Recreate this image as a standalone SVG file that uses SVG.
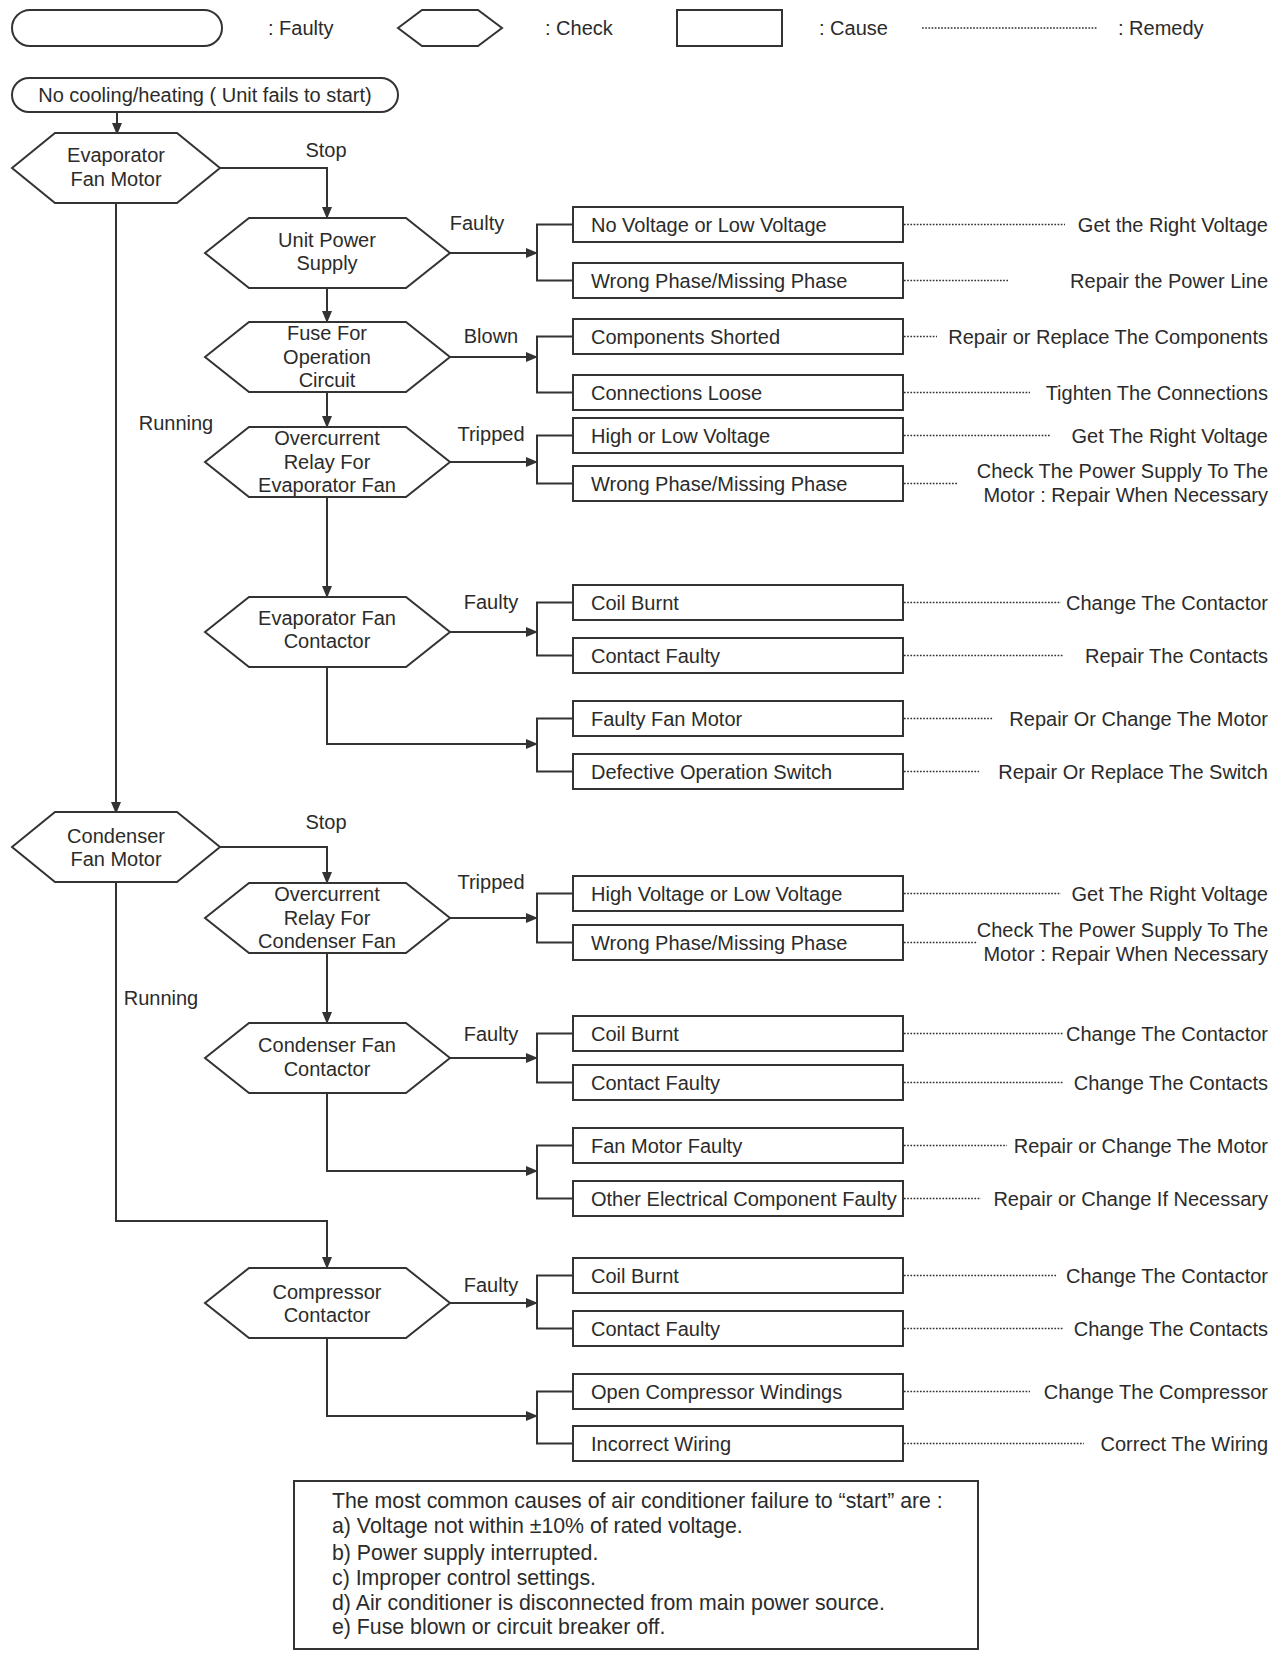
<svg xmlns="http://www.w3.org/2000/svg" width="1279" height="1653" viewBox="0 0 1279 1653">
<defs>
<marker id="ah" markerUnits="userSpaceOnUse" markerWidth="12" markerHeight="10" refX="11" refY="5" orient="auto">
<path d="M0,0 L12,5 L0,10 z" fill="#333"/>
</marker>
<style>
.s{fill:#fff;stroke:#333;stroke-width:2}
.t{font-family:"Liberation Sans",Arial,sans-serif;font-size:20px;fill:#2b2b2b}
.n{font-size:21.3px}
.c{text-anchor:middle}
.e{text-anchor:end}
.ln{fill:none;stroke:#333;stroke-width:2}
.ar{fill:none;stroke:#333;stroke-width:2;marker-end:url(#ah)}
.dot{fill:none;stroke:#333;stroke-width:1.7;stroke-dasharray:1.7 1.5}
</style>
</defs>
<rect width="1279" height="1653" fill="#fff"/>

<g id="legend">
<rect class="s" x="12" y="10" width="210" height="36" rx="18"/>
<text class="t" x="268" y="35">:  Faulty</text>
<path class="s" d="M398,28 L422,10 L478,10 L502,28 L478,46 L422,46 Z"/>
<text class="t" x="545" y="35">:  Check</text>
<rect class="s" x="677" y="10" width="105" height="36"/>
<text class="t" x="819" y="35">:  Cause</text>
<line class="dot" x1="922" y1="28" x2="1097" y2="28"/>
<text class="t" x="1118" y="35">: Remedy</text>
</g>

<g id="connectors">
<path class="ar" d="M117,112 V134"/>
<path class="ar" d="M220,168 H327 V218"/>
<path class="ar" d="M116,203 V813"/>
<path class="ar" d="M327,288 V322"/>
<path class="ar" d="M327,392 V427"/>
<path class="ar" d="M327,497 V597"/>
<path class="ar" d="M327,667 V744 H537"/>
<path class="ar" d="M220,847 H327 V883"/>
<path class="ar" d="M327,953 V1023"/>
<path class="ar" d="M327,1093 V1171 H537"/>
<path class="ar" d="M116,882 V1221 H327 V1268"/>
<path class="ar" d="M327,1338 V1416 H537"/>
<path class="ar" d="M450,253 H537"/>
<path class="ar" d="M450,357 H537"/>
<path class="ar" d="M450,462 H537"/>
<path class="ar" d="M450,632 H537"/>
<path class="ar" d="M450,918 H537"/>
<path class="ar" d="M450,1058 H537"/>
<path class="ar" d="M450,1303 H537"/>
<path class="ln" d="M573,224.5 H537 V280.5 H573"/>
<path class="ln" d="M573,336.5 H537 V392.5 H573"/>
<path class="ln" d="M573,435.5 H537 V483.5 H573"/>
<path class="ln" d="M573,602.5 H537 V655.5 H573"/>
<path class="ln" d="M573,718.5 H537 V771.5 H573"/>
<path class="ln" d="M573,893.5 H537 V942.5 H573"/>
<path class="ln" d="M573,1033.5 H537 V1082.5 H573"/>
<path class="ln" d="M573,1145.5 H537 V1198.5 H573"/>
<path class="ln" d="M573,1275.5 H537 V1328.5 H573"/>
<path class="ln" d="M573,1391.5 H537 V1443.5 H573"/>
<line class="dot" x1="904" y1="224.5" x2="1065" y2="224.5"/>
<line class="dot" x1="904" y1="280.5" x2="1008" y2="280.5"/>
<line class="dot" x1="904" y1="336.5" x2="937" y2="336.5"/>
<line class="dot" x1="904" y1="392.5" x2="1030" y2="392.5"/>
<line class="dot" x1="904" y1="435.5" x2="1050" y2="435.5"/>
<line class="dot" x1="904" y1="483.5" x2="958" y2="483.5"/>
<line class="dot" x1="904" y1="602.5" x2="1061" y2="602.5"/>
<line class="dot" x1="904" y1="655.5" x2="1063" y2="655.5"/>
<line class="dot" x1="904" y1="718.5" x2="993" y2="718.5"/>
<line class="dot" x1="904" y1="771.5" x2="979" y2="771.5"/>
<line class="dot" x1="904" y1="893.5" x2="1061" y2="893.5"/>
<line class="dot" x1="904" y1="942.5" x2="977" y2="942.5"/>
<line class="dot" x1="904" y1="1033.5" x2="1063" y2="1033.5"/>
<line class="dot" x1="904" y1="1082.5" x2="1063" y2="1082.5"/>
<line class="dot" x1="904" y1="1145.5" x2="1007" y2="1145.5"/>
<line class="dot" x1="904" y1="1198.5" x2="981" y2="1198.5"/>
<line class="dot" x1="904" y1="1275.5" x2="1056" y2="1275.5"/>
<line class="dot" x1="904" y1="1328.5" x2="1063" y2="1328.5"/>
<line class="dot" x1="904" y1="1391.5" x2="1030" y2="1391.5"/>
<line class="dot" x1="904" y1="1443.5" x2="1084" y2="1443.5"/>
<text class="t c" x="326" y="157">Stop</text>
<text class="t c" x="176" y="430">Running</text>
<text class="t c" x="477" y="230">Faulty</text>
<text class="t c" x="491" y="343">Blown</text>
<text class="t c" x="491" y="441">Tripped</text>
<text class="t c" x="491" y="609">Faulty</text>
<text class="t c" x="326" y="829">Stop</text>
<text class="t c" x="161" y="1005">Running</text>
<text class="t c" x="491" y="889">Tripped</text>
<text class="t c" x="491" y="1041">Faulty</text>
<text class="t c" x="491" y="1292">Faulty</text>
</g>

<g id="start">
<rect class="s" x="12" y="78" width="386" height="34" rx="17"/>
<text class="t c" x="205" y="102">No cooling/heating ( Unit fails to start)</text>
</g>

<g id="evap-fan-motor">
<path class="s" d="M12,168 L55,133 L177,133 L220,168 L177,203 L55,203 Z"/>
<text class="t c" x="116" y="162">Evaporator</text>
<text class="t c" x="116" y="186">Fan Motor</text>
</g>
<g id="unit-power-supply">
<path class="s" d="M205,253 L249,218 L406,218 L450,253 L406,288 L249,288 Z"/>
<text class="t c" x="327" y="247">Unit Power</text>
<text class="t c" x="327" y="270">Supply</text>
</g>
<g id="fuse">
<path class="s" d="M205,357 L249,322 L406,322 L450,357 L406,392 L249,392 Z"/>
<text class="t c" x="327" y="340">Fuse For</text>
<text class="t c" x="327" y="364">Operation</text>
<text class="t c" x="327" y="387">Circuit</text>
</g>
<g id="ocr-evap">
<path class="s" d="M205,462 L249,427 L406,427 L450,462 L406,497 L249,497 Z"/>
<text class="t c" x="327" y="445">Overcurrent</text>
<text class="t c" x="327" y="469">Relay For</text>
<text class="t c" x="327" y="492">Evaporator Fan</text>
</g>
<g id="evap-contactor">
<path class="s" d="M205,632 L249,597 L406,597 L450,632 L406,667 L249,667 Z"/>
<text class="t c" x="327" y="625">Evaporator Fan</text>
<text class="t c" x="327" y="648">Contactor</text>
</g>
<g id="cond-fan-motor">
<path class="s" d="M12,847 L55,812 L177,812 L220,847 L177,882 L55,882 Z"/>
<text class="t c" x="116" y="843">Condenser</text>
<text class="t c" x="116" y="866">Fan Motor</text>
</g>
<g id="ocr-cond">
<path class="s" d="M205,918 L249,883 L406,883 L450,918 L406,953 L249,953 Z"/>
<text class="t c" x="327" y="901">Overcurrent</text>
<text class="t c" x="327" y="925">Relay For</text>
<text class="t c" x="327" y="948">Condenser Fan</text>
</g>
<g id="cond-contactor">
<path class="s" d="M205,1058 L249,1023 L406,1023 L450,1058 L406,1093 L249,1093 Z"/>
<text class="t c" x="327" y="1052">Condenser Fan</text>
<text class="t c" x="327" y="1076">Contactor</text>
</g>
<g id="comp-contactor">
<path class="s" d="M205,1303 L249,1268 L406,1268 L450,1303 L406,1338 L249,1338 Z"/>
<text class="t c" x="327" y="1299">Compressor</text>
<text class="t c" x="327" y="1322">Contactor</text>
</g>

<g id="causes">
<rect class="s" x="573" y="207" width="330" height="35"/><text class="t" x="591" y="231.5">No Voltage or Low Voltage</text>
<rect class="s" x="573" y="263" width="330" height="35"/><text class="t" x="591" y="287.5">Wrong Phase/Missing Phase</text>
<rect class="s" x="573" y="319" width="330" height="35"/><text class="t" x="591" y="343.5">Components Shorted</text>
<rect class="s" x="573" y="375" width="330" height="35"/><text class="t" x="591" y="399.5">Connections Loose</text>
<rect class="s" x="573" y="418" width="330" height="35"/><text class="t" x="591" y="442.5">High or Low Voltage</text>
<rect class="s" x="573" y="466" width="330" height="35"/><text class="t" x="591" y="490.5">Wrong Phase/Missing Phase</text>
<rect class="s" x="573" y="585" width="330" height="35"/><text class="t" x="591" y="609.5">Coil Burnt</text>
<rect class="s" x="573" y="638" width="330" height="35"/><text class="t" x="591" y="662.5">Contact Faulty</text>
<rect class="s" x="573" y="701" width="330" height="35"/><text class="t" x="591" y="725.5">Faulty Fan Motor</text>
<rect class="s" x="573" y="754" width="330" height="35"/><text class="t" x="591" y="778.5">Defective Operation Switch</text>
<rect class="s" x="573" y="876" width="330" height="35"/><text class="t" x="591" y="900.5">High Voltage or Low Voltage</text>
<rect class="s" x="573" y="925" width="330" height="35"/><text class="t" x="591" y="949.5">Wrong Phase/Missing Phase</text>
<rect class="s" x="573" y="1016" width="330" height="35"/><text class="t" x="591" y="1040.5">Coil Burnt</text>
<rect class="s" x="573" y="1065" width="330" height="35"/><text class="t" x="591" y="1089.5">Contact Faulty</text>
<rect class="s" x="573" y="1128" width="330" height="35"/><text class="t" x="591" y="1152.5">Fan Motor Faulty</text>
<rect class="s" x="573" y="1181" width="330" height="35"/><text class="t" x="591" y="1205.5">Other Electrical Component Faulty</text>
<rect class="s" x="573" y="1258" width="330" height="35"/><text class="t" x="591" y="1282.5">Coil Burnt</text>
<rect class="s" x="573" y="1311" width="330" height="35"/><text class="t" x="591" y="1335.5">Contact Faulty</text>
<rect class="s" x="573" y="1374" width="330" height="35"/><text class="t" x="591" y="1398.5">Open Compressor Windings</text>
<rect class="s" x="573" y="1426" width="330" height="35"/><text class="t" x="591" y="1450.5">Incorrect Wiring</text>
</g>

<g id="remedies">
<text class="t e" x="1268" y="231.5">Get the Right Voltage</text>
<text class="t e" x="1268" y="287.5">Repair the Power Line</text>
<text class="t e" x="1268" y="343.5">Repair or Replace The Components</text>
<text class="t e" x="1268" y="399.5">Tighten The Connections</text>
<text class="t e" x="1268" y="442.5">Get The Right Voltage</text>
<text class="t e" x="1268" y="478">Check The Power Supply To The</text>
<text class="t e" x="1268" y="502">Motor : Repair When Necessary</text>
<text class="t e" x="1268" y="609.5">Change The Contactor</text>
<text class="t e" x="1268" y="662.5">Repair The Contacts</text>
<text class="t e" x="1268" y="725.5">Repair Or Change The Motor</text>
<text class="t e" x="1268" y="778.5">Repair Or Replace The Switch</text>
<text class="t e" x="1268" y="900.5">Get The Right Voltage</text>
<text class="t e" x="1268" y="937">Check The Power Supply To The</text>
<text class="t e" x="1268" y="961">Motor : Repair When Necessary</text>
<text class="t e" x="1268" y="1040.5">Change The Contactor</text>
<text class="t e" x="1268" y="1089.5">Change The Contacts</text>
<text class="t e" x="1268" y="1152.5">Repair or Change The Motor</text>
<text class="t e" x="1268" y="1205.5">Repair or Change If Necessary</text>
<text class="t e" x="1268" y="1282.5">Change The Contactor</text>
<text class="t e" x="1268" y="1335.5">Change The Contacts</text>
<text class="t e" x="1268" y="1398.5">Change The Compressor</text>
<text class="t e" x="1268" y="1450.5">Correct The Wiring</text>
</g>

<g id="note">
<rect class="s" x="294" y="1481" width="684" height="168"/>
<text class="t n" x="332" y="1508">The most common causes of air conditioner failure to “start” are :</text>
<text class="t n" x="332" y="1533">a) Voltage not within ±10% of rated voltage.</text>
<text class="t n" x="332" y="1560">b) Power supply interrupted.</text>
<text class="t n" x="332" y="1585">c) Improper control settings.</text>
<text class="t n" x="332" y="1610">d) Air conditioner is disconnected from main power source.</text>
<text class="t n" x="332" y="1634">e) Fuse blown or circuit breaker off.</text>
</g>
</svg>
